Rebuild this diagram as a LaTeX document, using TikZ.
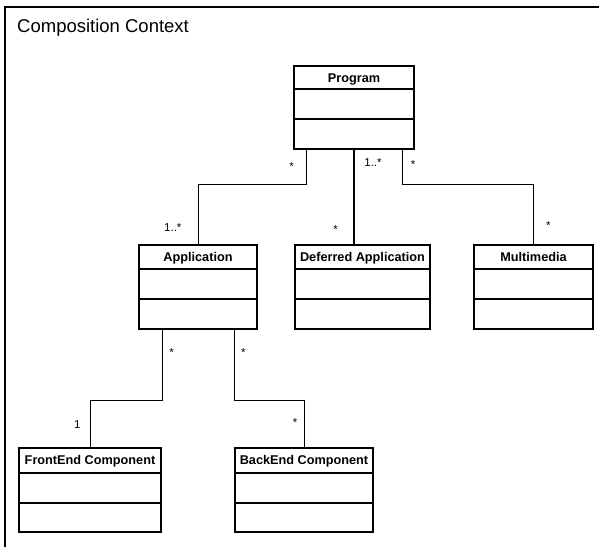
\documentclass[tikz,border=0pt]{standalone}
\usepackage{fontspec}
\setmainfont{Liberation Sans}
\newcommand\umlclass[8]{%
  \node[classbox, minimum width={(#3-#2)*1pt}, minimum height={(#7-#4)*1pt}] (#1) at ({(#2+#3)/2},{(#4+#7)/2}) {};
  \node[classtitle] (#1-title) at ({(#2+#3)/2},{#4+16.3}) {#8};
  \draw[divider] (#2,#5) -- (#3,#5);
  \draw[divider] (#2,#6) -- (#3,#6);
}
\begin{document}
\begin{tikzpicture}[x=1pt,y=-1pt,
  classbox/.style={draw, line width=1.1pt, rectangle, inner sep=0pt, outer sep=0pt},
  divider/.style={line width=1.1pt},
  classtitle/.style={font=\fontsize{12.7}{14}\selectfont\bfseries, inner sep=0pt, anchor=base},
  conn/.style={draw, line width=0.9pt},
  thickconn/.style={draw, line width=2pt},
  mult/.style={font=\fontsize{11.5}{13}\selectfont, inner sep=0pt, anchor=base},
  frameline/.style={draw, line width=1.2pt}]
\useasboundingbox (0,0) rectangle (599,547);
\draw[frameline] (5,547) -- (5,7) -- (599,7);
\node[font=\fontsize{18.5}{20}\selectfont, inner sep=0pt, anchor=base west] (ctx) at (17,32.7) {Composition Context};

\umlclass{prog}{294}{414}{66}{89}{119}{149}{Program}
\umlclass{app}{139}{257}{245}{269}{299}{329}{Application}
\umlclass{def}{295}{430}{245}{269}{299}{329}{Deferred Application}
\umlclass{mm}{474}{593}{245}{269}{299}{329}{Multimedia}
\umlclass{fe}{19}{161}{448}{473}{503}{532}{FrontEnd Component}
\umlclass{be}{235}{373}{448}{473}{503}{532}{BackEnd Component}

\draw[conn] ([xshift=12pt]prog.south west) -- ++(0,35) -| (app.north);
\draw[thickconn] (prog.south) -- (prog.south |- def.north);
\draw[conn] ([xshift=-12pt]prog.south east) -- ++(0,35) -| (mm.north);
\draw[conn] ([xshift=23pt]app.south west) -- ++(0,71) -| (fe.north);
\draw[conn] ([xshift=-23pt]app.south east) -- ++(0,71) -| (be.north);

\node[mult] (l1) at (291.7,170.6) {*};
\node[mult] (l2) at (373,166.7) {1..*};
\node[mult] (l3) at (413,168.6) {*};
\node[mult] (l4) at (172.8,231.7) {1..*};
\node[mult] (l5) at (335.7,233.3) {*};
\node[mult] (l6) at (548.3,229.3) {*};
\node[mult] (l7) at (171.7,356) {*};
\node[mult] (l8) at (243.3,356) {*};
\node[mult] (l9) at (77.3,428.3) {1};
\node[mult] (l10) at (295,426.6) {*};
\end{tikzpicture}
\end{document}
